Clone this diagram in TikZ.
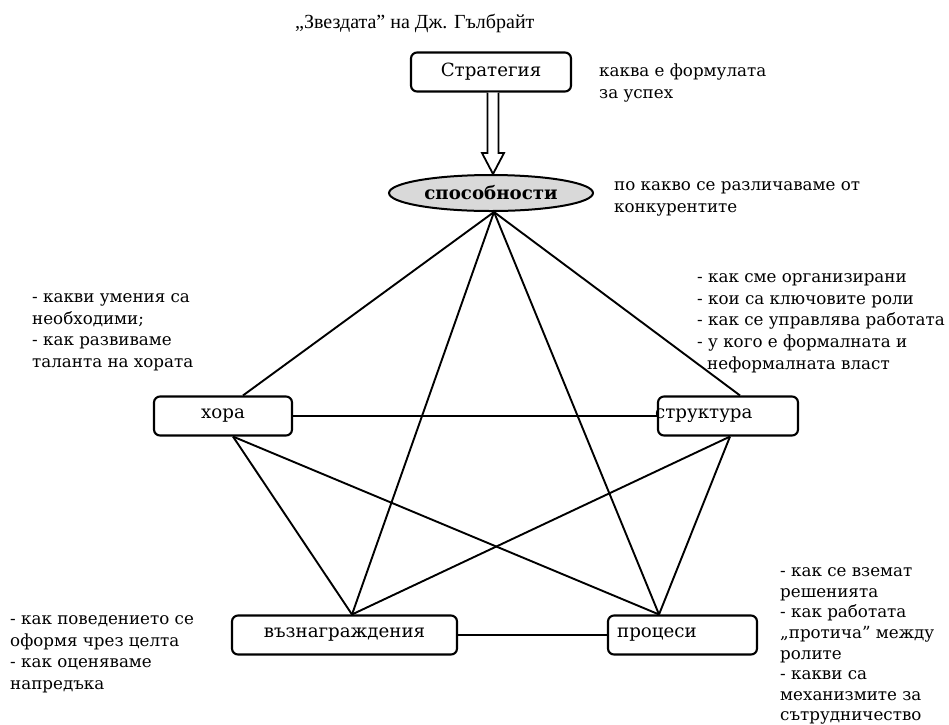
\documentclass[tikz,border=0pt]{standalone}
\usepackage{fontspec}
\setmainfont{DejaVu Serif}
\newfontfamily\titlefont{Liberation Serif}
\usetikzlibrary{shapes.geometric,calc}

\begin{document}
\begin{tikzpicture}[x=1pt,y=-1pt,
  box/.style={draw,line width=2.1pt,rounded corners=6pt,minimum height=39pt,inner sep=0pt},
  link/.style={line width=1.9pt},
  note/.style={anchor=north west,align=left,inner sep=0pt,font=\fontsize{16.7}{21.7}\selectfont},
  boxtext/.style={inner sep=0pt,font=\fontsize{18.2}{20}\selectfont}]
\useasboundingbox (0,0) rectangle (949,724);

% title
\node[anchor=base west,inner sep=0pt,font=\titlefont\fontsize{20}{24}\selectfont] (title) at (295,28) {„Звездата” на Дж. Гълбрайт};

% strategy and capabilities
\node[box,minimum width=160pt,boxtext] (strat) at (491,72) {Стратегия};
\node[ellipse,draw,line width=2pt,fill=gray!30,minimum width=204pt,minimum height=36pt,inner sep=0pt,
      font=\fontsize{18.2}{20}\selectfont\bfseries] (cap) at (491,193) {способности};

% hollow arrow from strategy to capabilities
\coordinate (aS) at ($(strat.south)+(2,0)$);
\coordinate (aT) at ($(cap.north)+(2,0)$);
\draw[line width=1.8pt,fill=white,line join=miter]
  ($(aS)+(-5.5,0)$) -- ($(aT)+(-5.5,-21)$) -- ($(aT)+(-11,-21)$) -- (aT)
  -- ($(aT)+(11,-21)$) -- ($(aT)+(5.5,-21)$) -- ($(aS)+(5.5,0)$);

% the four points of the star
\node[box,minimum width=138pt] (hora) at (223,416) {};
\node[boxtext] (horatxt) at (hora.center) {хора};
\node[box,minimum width=140pt] (struct) at (728,416) {};
\node[boxtext,anchor=west] (structtxt) at (655,416) {структура};
\node[box,minimum width=225pt] (reward) at (344.5,635) {};
\node[boxtext] (rewardtxt) at (reward.center) {възнаграждения};
\node[box,minimum width=149pt] (proc) at (682.5,635) {};
\node[boxtext,anchor=west] (proctxt) at (617,635) {процеси};

% connectors
\coordinate (hub) at ($(cap.south)+(3,0)$);
\coordinate (horaT) at ($(hora.north)+(20,0)$);
\coordinate (horaB) at ($(hora.south)+(10,0)$);
\coordinate (structT) at ($(struct.north)+(12,0)$);
\coordinate (structB) at ($(struct.south)+(2,0)$);
\coordinate (rewardT) at ($(reward.north)+(7.5,0)$);
\coordinate (procT) at ($(proc.north)+(-23.5,0)$);

\draw[link] (hub) -- (horaT);
\draw[link] (hub) -- (structT);
\draw[link] (hub) -- (rewardT);
\draw[link] (hub) -- (procT);
\draw[link] (horaB) -- (rewardT);
\draw[link] (horaB) -- (procT);
\draw[link] (structB) -- (rewardT);
\draw[link] (structB) -- (procT);
\draw[link] (hora.east) -- (struct.west);
\draw[link] (reward.east) -- (proc.west);

% notes
\node[note] (nstrat) at (599,61) {\strut каква е формулата\\за успех};
\node[note] (ncap) at (614,175) {\strut по какво се различаваме от\\конкурентите};
\node[note] (nhora) at (32,287) {\strut - какви умения са\\необходими;\\- как развиваме\\таланта на хората};
\node[note] (nstruct) at (697,267) {\strut - как сме организирани\\- кои са ключовите роли\\- как се управлява работата\\- у кого е формалната и\\\hspace*{0.6em}неформалната власт};
\node[note] (nreward) at (10,609) {\strut - как поведението се\\оформя чрез целта\\- как оценяваме\\напредъка};
\node[note,font=\fontsize{16.7}{20.6}\selectfont] (nproc) at (780,562) {\strut - как се вземат\\решенията\\- как работата\\„протича” между\\ролите\\- какви са\\механизмите за\\сътрудничество};
\end{tikzpicture}
\end{document}
